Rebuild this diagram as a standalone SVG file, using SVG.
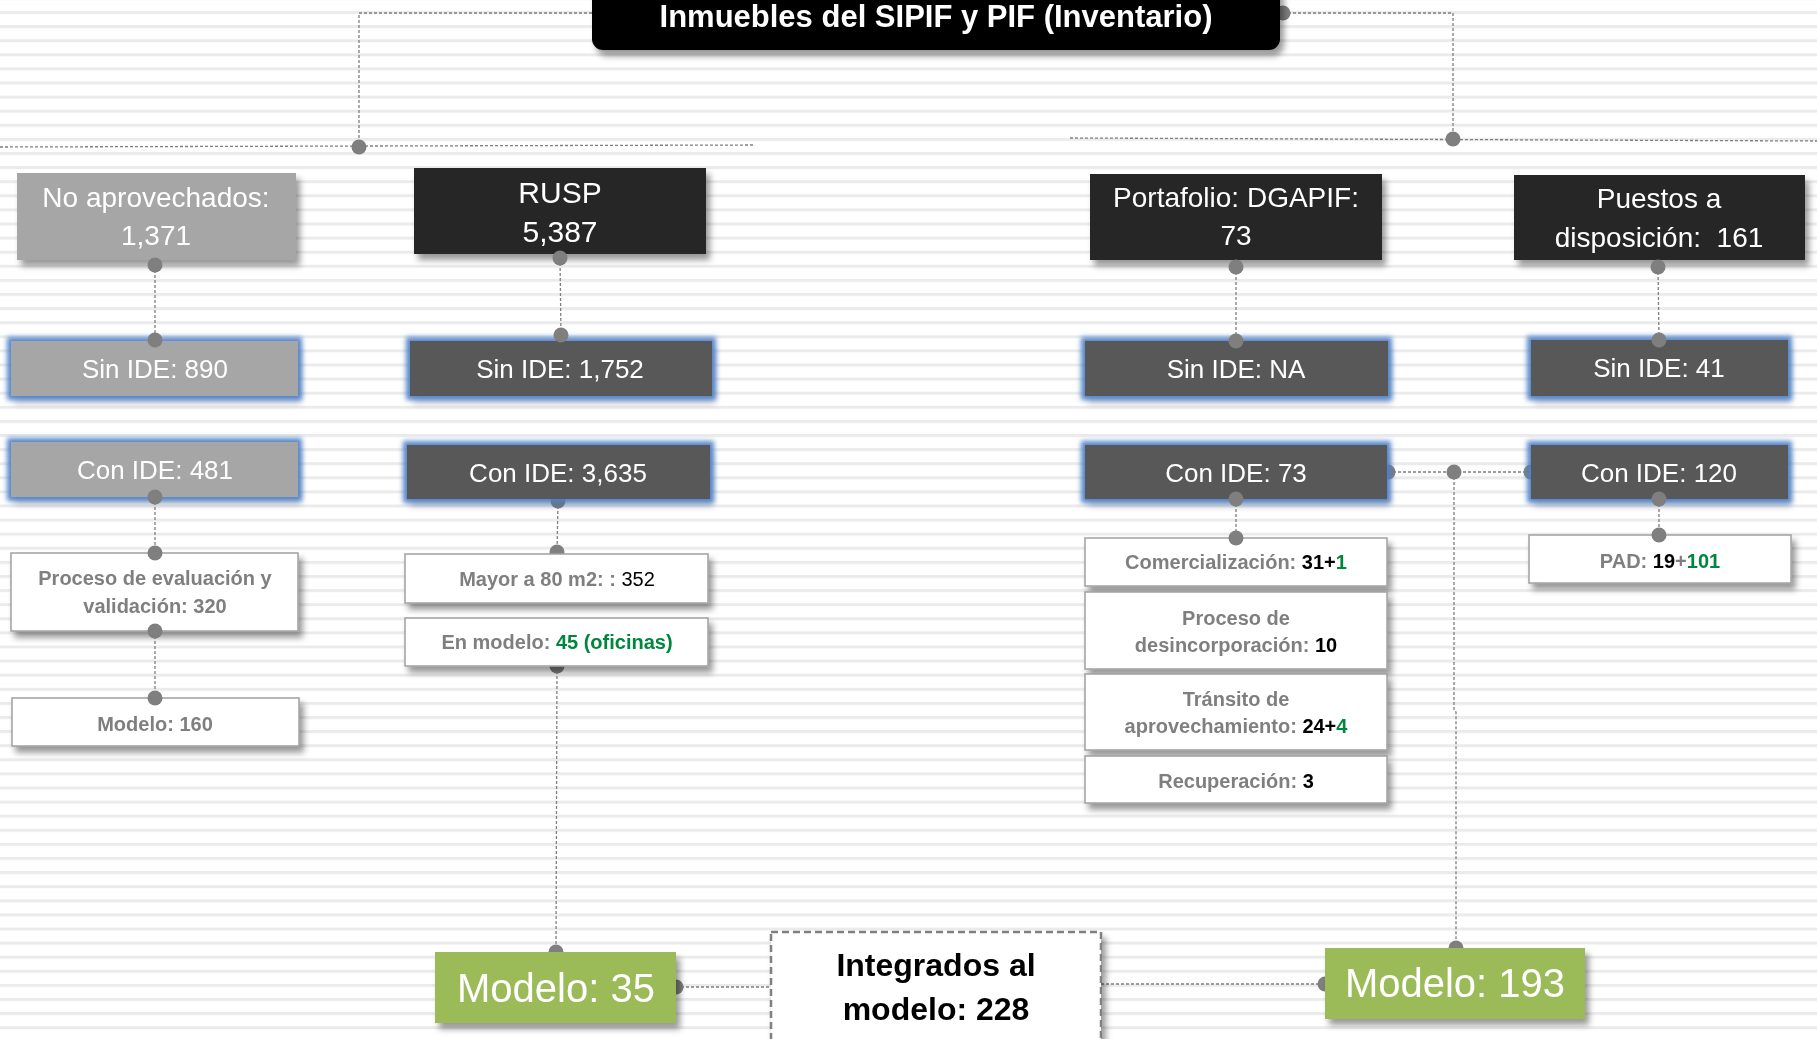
<svg xmlns="http://www.w3.org/2000/svg" width="1817" height="1039" viewBox="0 0 1817 1039">
<defs>
<pattern id="stripes" patternUnits="userSpaceOnUse" x="0" y="11" width="20" height="14.1">
<rect x="0" y="0" width="20" height="14.1" fill="#ffffff"/>
<rect x="0" y="0" width="20" height="3" fill="#ebebeb"/>
</pattern>
<filter id="shadow" x="-10%" y="-20%" width="125%" height="150%">
<feGaussianBlur in="SourceAlpha" stdDeviation="3"/>
<feOffset dx="4" dy="6" result="o"/>
<feFlood flood-color="#000" flood-opacity="0.4"/>
<feComposite in2="o" operator="in" result="s"/>
<feMerge><feMergeNode in="s"/><feMergeNode in="SourceGraphic"/></feMerge>
</filter>
<filter id="glow" x="-10%" y="-40%" width="125%" height="190%">
<feGaussianBlur in="SourceAlpha" stdDeviation="3"/>
<feOffset dx="3" dy="7" result="o"/>
<feFlood flood-color="#000" flood-opacity="0.3"/>
<feComposite in2="o" operator="in" result="s"/>
<feMorphology in="SourceAlpha" operator="dilate" radius="4" result="d"/>
<feGaussianBlur in="d" stdDeviation="2.5" result="b"/>
<feFlood flood-color="#4f81c8" flood-opacity="0.95"/>
<feComposite in2="b" operator="in" result="g"/>
<feMerge><feMergeNode in="s"/><feMergeNode in="g"/><feMergeNode in="SourceGraphic"/></feMerge>
</filter>
<style>
text{font-family:"Liberation Sans",Arial,sans-serif;text-anchor:middle}
.w{fill:#fff}
.r1{font-size:28px}
.ide{font-size:26px}
.sub{font-size:20px;font-weight:bold;fill:#7f7f7f}
.k{fill:#000}
.g{fill:#00863c}
.big{font-size:40px;fill:#fff}
.int{font-size:32px;font-weight:bold;fill:#000}
.ttl{font-size:31px;font-weight:bold;fill:#fff}
.lt{fill:#a6a6a6}
.dk{fill:#262626}
.md{fill:#595959}
.wb{fill:#fff;stroke:#a0a0a0;stroke-width:1.5}
.gr{fill:#9bbb59}
.ln{fill:none;stroke:#7f7f7f;stroke-width:1.3;stroke-dasharray:3 2}
.dot{fill:#7f7f7f}
</style>
</defs>
<rect x="0" y="0" width="1817" height="1039" fill="url(#stripes)"/>

<g id="connectors">
<path class="ln" d="M592 13 H359 V147"/>
<path class="ln" d="M0 147 L753 145"/>
<path class="ln" d="M1283 13 H1453 V139"/>
<path class="ln" d="M1070 138 L1817 141"/>
<path class="ln" d="M155 265 V340"/>
<path class="ln" d="M560 258 L561 335"/>
<path class="ln" d="M1236 267 V341"/>
<path class="ln" d="M1658 267 L1659 340"/>
<path class="ln" d="M155 497 V553"/>
<path class="ln" d="M155 631 V698"/>
<path class="ln" d="M558 501 L557 552"/>
<path class="ln" d="M557 666 L556 952"/>
<path class="ln" d="M1236 499 V538"/>
<path class="ln" d="M1659 499 V535"/>
<path class="ln" d="M1388 472 H1531"/>
<path class="ln" d="M1454 472 L1454 710 L1456 712 V948"/>
<path class="ln" d="M676 987 H771"/>
<path class="ln" d="M1101 984 H1325"/>
<circle class="dot" cx="1283" cy="13" r="7.5"/>
<circle class="dot" cx="558" cy="501" r="7.5"/>
<circle class="dot" cx="557" cy="552" r="7.5"/>
<circle class="dot" cx="557" cy="666" r="7.5"/>
<circle class="dot" cx="1388" cy="472" r="7.5"/>
<circle class="dot" cx="1531" cy="472" r="7.5"/>
<circle class="dot" cx="556" cy="952" r="7.5"/>
<circle class="dot" cx="676" cy="987" r="7.5"/>
<circle class="dot" cx="1456" cy="948" r="7.5"/>
<circle class="dot" cx="1325" cy="984" r="7.5"/>
</g>

<g id="title" filter="url(#shadow)">
<rect x="592" y="-20" width="688" height="70" rx="11" fill="#000"/>
<text class="ttl" x="936" y="27">Inmuebles del SIPIF y PIF (Inventario)</text>
</g>

<g id="no-aprovechados" filter="url(#shadow)">
<rect class="lt" x="17" y="173" width="279" height="87"/>
<text class="w r1" x="156" y="207">No aprovechados:<tspan x="156" y="245">1,371</tspan></text>
</g>
<g id="rusp" filter="url(#shadow)">
<rect class="dk" x="414" y="168" width="292" height="86"/>
<text class="w" style="font-size:30px" x="560" y="203">RUSP<tspan x="560" y="242">5,387</tspan></text>
</g>
<g id="portafolio" filter="url(#shadow)">
<rect class="dk" x="1090" y="174" width="292" height="86"/>
<text class="w r1" x="1236" y="207">Portafolio: DGAPIF:<tspan x="1236" y="245">73</tspan></text>
</g>
<g id="puestos" filter="url(#shadow)">
<rect class="dk" x="1514" y="175" width="291" height="85"/>
<text class="w r1" x="1659" y="208">Puestos a<tspan x="1659" y="247" xml:space="preserve">disposición:  161</tspan></text>
</g>

<g id="sin-ide-890" filter="url(#glow)">
<rect class="lt" x="11" y="341" width="287" height="55"/>
<text class="w ide" x="155" y="378">Sin IDE: 890</text>
</g>
<g id="sin-ide-1752" filter="url(#glow)">
<rect class="md" x="410" y="341" width="302" height="55"/>
<text class="w ide" x="560" y="378">Sin IDE: 1,752</text>
</g>
<g id="sin-ide-na" filter="url(#glow)">
<rect class="md" x="1085" y="341" width="303" height="55"/>
<text class="w ide" x="1236" y="378">Sin IDE: NA</text>
</g>
<g id="sin-ide-41" filter="url(#glow)">
<rect class="md" x="1531" y="340" width="257" height="56"/>
<text class="w ide" x="1659" y="377">Sin IDE: 41</text>
</g>

<g id="con-ide-481" filter="url(#glow)">
<rect class="lt" x="11" y="442" width="287" height="55"/>
<text class="w ide" x="155" y="479">Con IDE: 481</text>
</g>
<g id="con-ide-3635" filter="url(#glow)">
<rect class="md" x="407" y="445" width="303" height="54"/>
<text class="w ide" x="558" y="482">Con IDE: 3,635</text>
</g>
<g id="con-ide-73" filter="url(#glow)">
<rect class="md" x="1085" y="445" width="302" height="54"/>
<text class="w ide" x="1236" y="482">Con IDE: 73</text>
</g>
<g id="con-ide-120" filter="url(#glow)">
<rect class="md" x="1531" y="445" width="257" height="54"/>
<text class="w ide" x="1659" y="482">Con IDE: 120</text>
</g>

<g id="proceso-evaluacion" filter="url(#shadow)">
<rect class="wb" x="11" y="553" width="287" height="78"/>
<text class="sub" x="155" y="585">Proceso de evaluación y<tspan x="155" y="613">validación: 320</tspan></text>
</g>
<g id="modelo-160" filter="url(#shadow)">
<rect class="wb" x="12" y="698" width="287" height="48"/>
<text class="sub" x="155" y="731">Modelo: 160</text>
</g>
<g id="mayor-80" filter="url(#shadow)">
<rect class="wb" x="405" y="554" width="303" height="49"/>
<text class="sub" x="557" y="586" xml:space="preserve">Mayor a 80 m2: : <tspan class="k" style="font-weight:normal">352</tspan></text>
</g>
<g id="en-modelo" filter="url(#shadow)">
<rect class="wb" x="405" y="618" width="303" height="48"/>
<text class="sub" x="557" y="649" xml:space="preserve">En modelo: <tspan class="g">45 (oficinas)</tspan></text>
</g>

<g id="comercializacion" filter="url(#shadow)">
<rect class="wb" x="1085" y="538" width="302" height="48"/>
<text class="sub" x="1236" y="569" xml:space="preserve">Comercialización: <tspan class="k">31+</tspan><tspan class="g">1</tspan></text>
</g>
<g id="desincorporacion" filter="url(#shadow)">
<rect class="wb" x="1085" y="592" width="302" height="77"/>
<text class="sub" x="1236" y="625">Proceso de<tspan x="1236" y="652" xml:space="preserve">desincorporación: </tspan><tspan class="k">10</tspan></text>
</g>
<g id="transito" filter="url(#shadow)">
<rect class="wb" x="1085" y="674" width="302" height="76"/>
<text class="sub" x="1236" y="706">Tránsito de<tspan x="1236" y="733" xml:space="preserve">aprovechamiento: </tspan><tspan class="k">24+</tspan><tspan class="g">4</tspan></text>
</g>
<g id="recuperacion" filter="url(#shadow)">
<rect class="wb" x="1085" y="756" width="302" height="47"/>
<text class="sub" x="1236" y="788" xml:space="preserve">Recuperación: <tspan class="k">3</tspan></text>
</g>
<g id="pad" filter="url(#shadow)">
<rect class="wb" x="1529" y="535" width="262" height="48"/>
<text class="sub" x="1660" y="568" xml:space="preserve">PAD: <tspan class="k">19</tspan>+<tspan class="g">101</tspan></text>
</g>

<g id="modelo-35" filter="url(#shadow)">
<rect class="gr" x="435" y="952" width="241" height="71"/>
<text class="big" x="556" y="1002">Modelo: 35</text>
</g>
<g id="integrados" filter="url(#shadow)">
<rect x="771" y="932" width="330" height="120" fill="#fff" stroke="#808080" stroke-width="2.5" stroke-dasharray="7 4"/>
<text class="int" x="936" y="976">Integrados al<tspan x="936" y="1020">modelo: 228</tspan></text>
</g>
<g id="modelo-193" filter="url(#shadow)">
<rect class="gr" x="1325" y="948" width="260" height="71"/>
<text class="big" x="1455" y="997">Modelo: 193</text>
</g>

<g id="connector-ends">
<circle class="dot" cx="359" cy="147" r="7.5"/>
<circle class="dot" cx="1453" cy="139" r="7.5"/>
<circle class="dot" cx="155" cy="265" r="7.5"/>
<circle class="dot" cx="560" cy="258" r="7.5"/>
<circle class="dot" cx="1236" cy="267" r="7.5"/>
<circle class="dot" cx="1658" cy="267" r="7.5"/>
<circle class="dot" cx="155" cy="340" r="7.5"/>
<circle class="dot" cx="561" cy="335" r="7.5"/>
<circle class="dot" cx="1236" cy="341" r="7.5"/>
<circle class="dot" cx="1659" cy="340" r="7.5"/>
<circle class="dot" cx="155" cy="497" r="7.5"/>
<circle class="dot" cx="155" cy="553" r="7.5"/>
<circle class="dot" cx="155" cy="631" r="7.5"/>
<circle class="dot" cx="155" cy="698" r="7.5"/>
<circle class="dot" cx="1236" cy="499" r="7.5"/>
<circle class="dot" cx="1236" cy="538" r="7.5"/>
<circle class="dot" cx="1659" cy="499" r="7.5"/>
<circle class="dot" cx="1659" cy="535" r="7.5"/>
<circle class="dot" cx="1454" cy="472" r="7.5"/>
</g>
</svg>
